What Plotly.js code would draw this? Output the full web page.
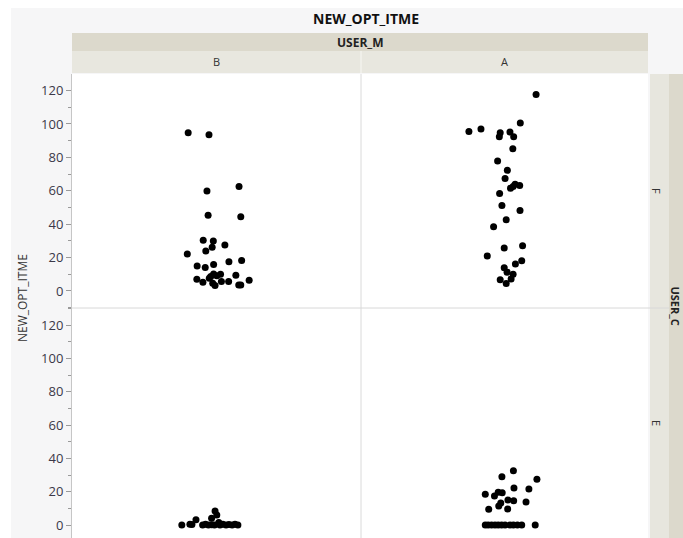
<!DOCTYPE html>
<html>
<head>
<meta charset="utf-8">
<script src="https://cdn.plot.ly/plotly-3.0.1.min.js"></script>
<style>html,body{margin:0;padding:0;background:#fff;overflow:hidden}#chart{width:683px;height:538px}</style>
</head>
<body>
<div id="chart"></div>
<script>
// ---- data ----
var userM = ['B', 'A'];          // column facets
var userC = ['F', 'E'];          // row facets
var chartTitle = 'NEW_OPT_ITME';
var yTitle = 'NEW_OPT_ITME';

// jittered horizontal position inside each cell (0-100) and NEW_OPT_ITME values
var bF_pos = [40.2,47.4,46.7,57.8,47.1,58.4,45.4,48.9,48.5,46.3,52.9,39.9,43.3,46.1,49.0,54.3,58.7,43.2,45.3,47.5,49.0,50.1,51.4,48.7,49.5,51.7,54.2,56.7,57.7,58.4,61.3,48.0];
var bF_val = [94.7,93.5,59.9,62.5,45.4,44.4,30.4,29.9,26.1,23.9,27.5,22.1,14.9,14.1,15.9,17.5,18.3,7.0,5.2,7.6,10.1,9.1,10.0,4.6,3.2,5.6,5.6,9.4,3.6,3.6,6.4,8.6];

var aF_pos = [61.0,55.5,37.6,41.8,48.5,48.2,51.9,53.2,52.9,47.6,51.0,50.2,53.7,55.3,52.1,53.0,48.3,49.1,55.4,50.6,46.2,49.9,56.3,44.0,56.0,53.8,49.9,50.9,53.0,52.3,48.5,50.6];
var aF_val = [117.6,100.5,95.5,96.9,94.7,92.3,95.1,92.3,85.2,77.8,72.2,67.3,63.9,63.1,61.5,62.5,58.3,51.2,48.2,42.6,38.4,25.7,27.1,20.9,18.1,16.1,13.9,11.2,10.0,7.2,6.7,4.4];

var bE_pos = [38.0,40.8,41.5,42.9,45.2,46.2,47.2,48.3,48.3,49.3,49.5,50.1,50.8,51.2,52.2,53.3,54.3,55.4,56.4,57.4];
var bE_val = [0,0.4,0.3,3.2,0,0.5,0,0.2,4.0,0,8.4,6.0,1.5,0,0.5,0,0.3,0,0.5,0];

var aE_pos = [43.3,44.3,45.5,46.7,47.8,49.0,50.2,51.9,53.1,54.5,56.0,60.7,53.1,49.1,61.3,53.3,58.5,43.3,46.5,47.8,49.2,51.2,53.2,57.5,48.7,48.0,44.5,51.1];
var aE_val = [0,0,0,0,0,0,0,0,0,0,0,0,32.6,29,27.4,22.2,21.6,18.4,17.4,19.6,19.4,15.0,14.6,13.8,13.2,11.4,9.4,9.6];

// ---- chart ----
var FONT = 'Open Sans, Noto Sans, sans-serif';
var W = 683, H = 538, ML = 72, MR = 35, MT = 74, MB = 0;
var PW = W - ML - MR, PH = H - MT - MB;
function X(px) { return (px - ML) / PW; }
function Y(py) { return (H - MB - py) / PH; }

var split = Y(308);
var xsplit = X(361);

var mk = {color: '#000', size: 7, line: {width: 0}};
function tr(xs, ys, xa, ya) {
  return {type: 'scatter', mode: 'markers', x: xs, y: ys, xaxis: xa, yaxis: ya,
          marker: mk, hoverinfo: 'y', cliponaxis: false};
}
var data = [
  tr(bF_pos, bF_val, 'x', 'y'),
  tr(aF_pos, aF_val, 'x2', 'y'),
  tr(bE_pos, bE_val, 'x', 'y2'),
  tr(aE_pos, aE_val, 'x2', 'y2')
];

function yax(dom, rng) {
  return {
    domain: dom, range: rng, anchor: 'x', fixedrange: true,
    showline: true, linecolor: '#c6c6c6', linewidth: 1, mirror: false,
    ticks: 'outside', ticklen: 5, tickwidth: 1, tickcolor: '#9a9a9a',
    tick0: 0, dtick: 20, showgrid: false, zeroline: false,
    tickfont: {family: FONT, size: 13, color: '#3b3848'},
    minor: {ticks: 'outside', ticklen: 3, tickwidth: 1, tickcolor: '#9a9a9a', dtick: 10, tick0: 0, showgrid: false}
  };
}
function xax(dom) {
  return {domain: dom, range: [0, 100], visible: false, fixedrange: true, anchor: 'y2'};
}

var shapes = [
  // light frame background
  {type: 'rect', xref: 'paper', yref: 'paper', x0: X(11), x1: X(690), y0: Y(545), y1: Y(8), fillcolor: '#f6f6f7', line: {width: 0}, layer: 'below'},
  // white plot area
  {type: 'rect', xref: 'paper', yref: 'paper', x0: X(72), x1: X(648), y0: Y(545), y1: Y(74), fillcolor: '#ffffff', line: {width: 0}, layer: 'below'},
  // USER_M band
  {type: 'rect', xref: 'paper', yref: 'paper', x0: X(72), x1: X(648), y0: Y(51), y1: Y(33), fillcolor: '#dcd9cc', line: {width: 0}, layer: 'below'},
  // B / A band
  {type: 'rect', xref: 'paper', yref: 'paper', x0: X(72), x1: X(648), y0: Y(73), y1: Y(51), fillcolor: '#e8e7df', line: {width: 0}, layer: 'below'},
  {type: 'line', xref: 'paper', yref: 'paper', x0: xsplit, x1: xsplit, y0: Y(73), y1: Y(51), line: {color: '#f7f7f3', width: 1}, layer: 'below'},
  // right strips
  {type: 'rect', xref: 'paper', yref: 'paper', x0: X(650), x1: X(669), y0: Y(545), y1: Y(74), fillcolor: '#e7e6de', line: {width: 0}, layer: 'below'},
  {type: 'rect', xref: 'paper', yref: 'paper', x0: X(669), x1: X(690), y0: Y(545), y1: Y(74), fillcolor: '#dcd9cc', line: {width: 0}, layer: 'below'},
  // panel separators
  {type: 'line', xref: 'paper', yref: 'paper', x0: xsplit, x1: xsplit, y0: Y(545), y1: Y(74), line: {color: '#dadada', width: 1}, layer: 'below'},
  {type: 'line', xref: 'paper', yref: 'paper', x0: X(72), x1: X(669), y0: split, y1: split, line: {color: '#d8d8d8', width: 1}, layer: 'below'}
];

var annotations = [
  {text: '<b>' + chartTitle + '</b>', xref: 'paper', yref: 'paper', x: X(366), y: Y(18), showarrow: false, xanchor: 'center', yanchor: 'middle', font: {family: FONT, size: 14, color: '#111'}},
  {text: '<b>USER_M</b>', xref: 'paper', yref: 'paper', x: X(360), y: Y(42), showarrow: false, xanchor: 'center', yanchor: 'middle', font: {family: FONT, size: 12, color: '#222'}},
  {text: userM[0], xref: 'paper', yref: 'paper', x: X(216.5), y: Y(62), showarrow: false, xanchor: 'center', yanchor: 'middle', font: {family: FONT, size: 11, color: '#333'}},
  {text: userM[1], xref: 'paper', yref: 'paper', x: X(504.5), y: Y(62), showarrow: false, xanchor: 'center', yanchor: 'middle', font: {family: FONT, size: 11, color: '#333'}},
  {text: userC[0], xref: 'paper', yref: 'paper', x: X(657), y: Y(191), showarrow: false, textangle: 90, xanchor: 'center', yanchor: 'middle', font: {family: FONT, size: 11, color: '#333'}},
  {text: userC[1], xref: 'paper', yref: 'paper', x: X(657), y: Y(423), showarrow: false, textangle: 90, xanchor: 'center', yanchor: 'middle', font: {family: FONT, size: 11, color: '#333'}},
  {text: '<b>USER_C</b>', xref: 'paper', yref: 'paper', x: X(675.5), y: Y(306), showarrow: false, textangle: 90, xanchor: 'center', yanchor: 'middle', font: {family: FONT, size: 11, color: '#222'}},
  {text: yTitle, xref: 'paper', yref: 'paper', x: X(22), y: Y(298), showarrow: false, textangle: -90, xanchor: 'center', yanchor: 'middle', font: {family: FONT, size: 12, color: '#333'}}
];

var layout = {
  width: W, height: H,
  margin: {l: ML, r: MR, t: MT, b: MB, pad: 0},
  paper_bgcolor: '#ffffff', plot_bgcolor: 'rgba(0,0,0,0)',
  showlegend: false,
  xaxis: xax([0, xsplit]),
  xaxis2: xax([xsplit, 1]),
  yaxis: yax([split, 1], [-10.2, 129.9]),
  yaxis2: yax([0, split], [-7.8, 130.2]),
  shapes: shapes,
  annotations: annotations
};

Plotly.newPlot('chart', data, layout, {displayModeBar: false, staticPlot: true});
</script>
</body>
</html>
